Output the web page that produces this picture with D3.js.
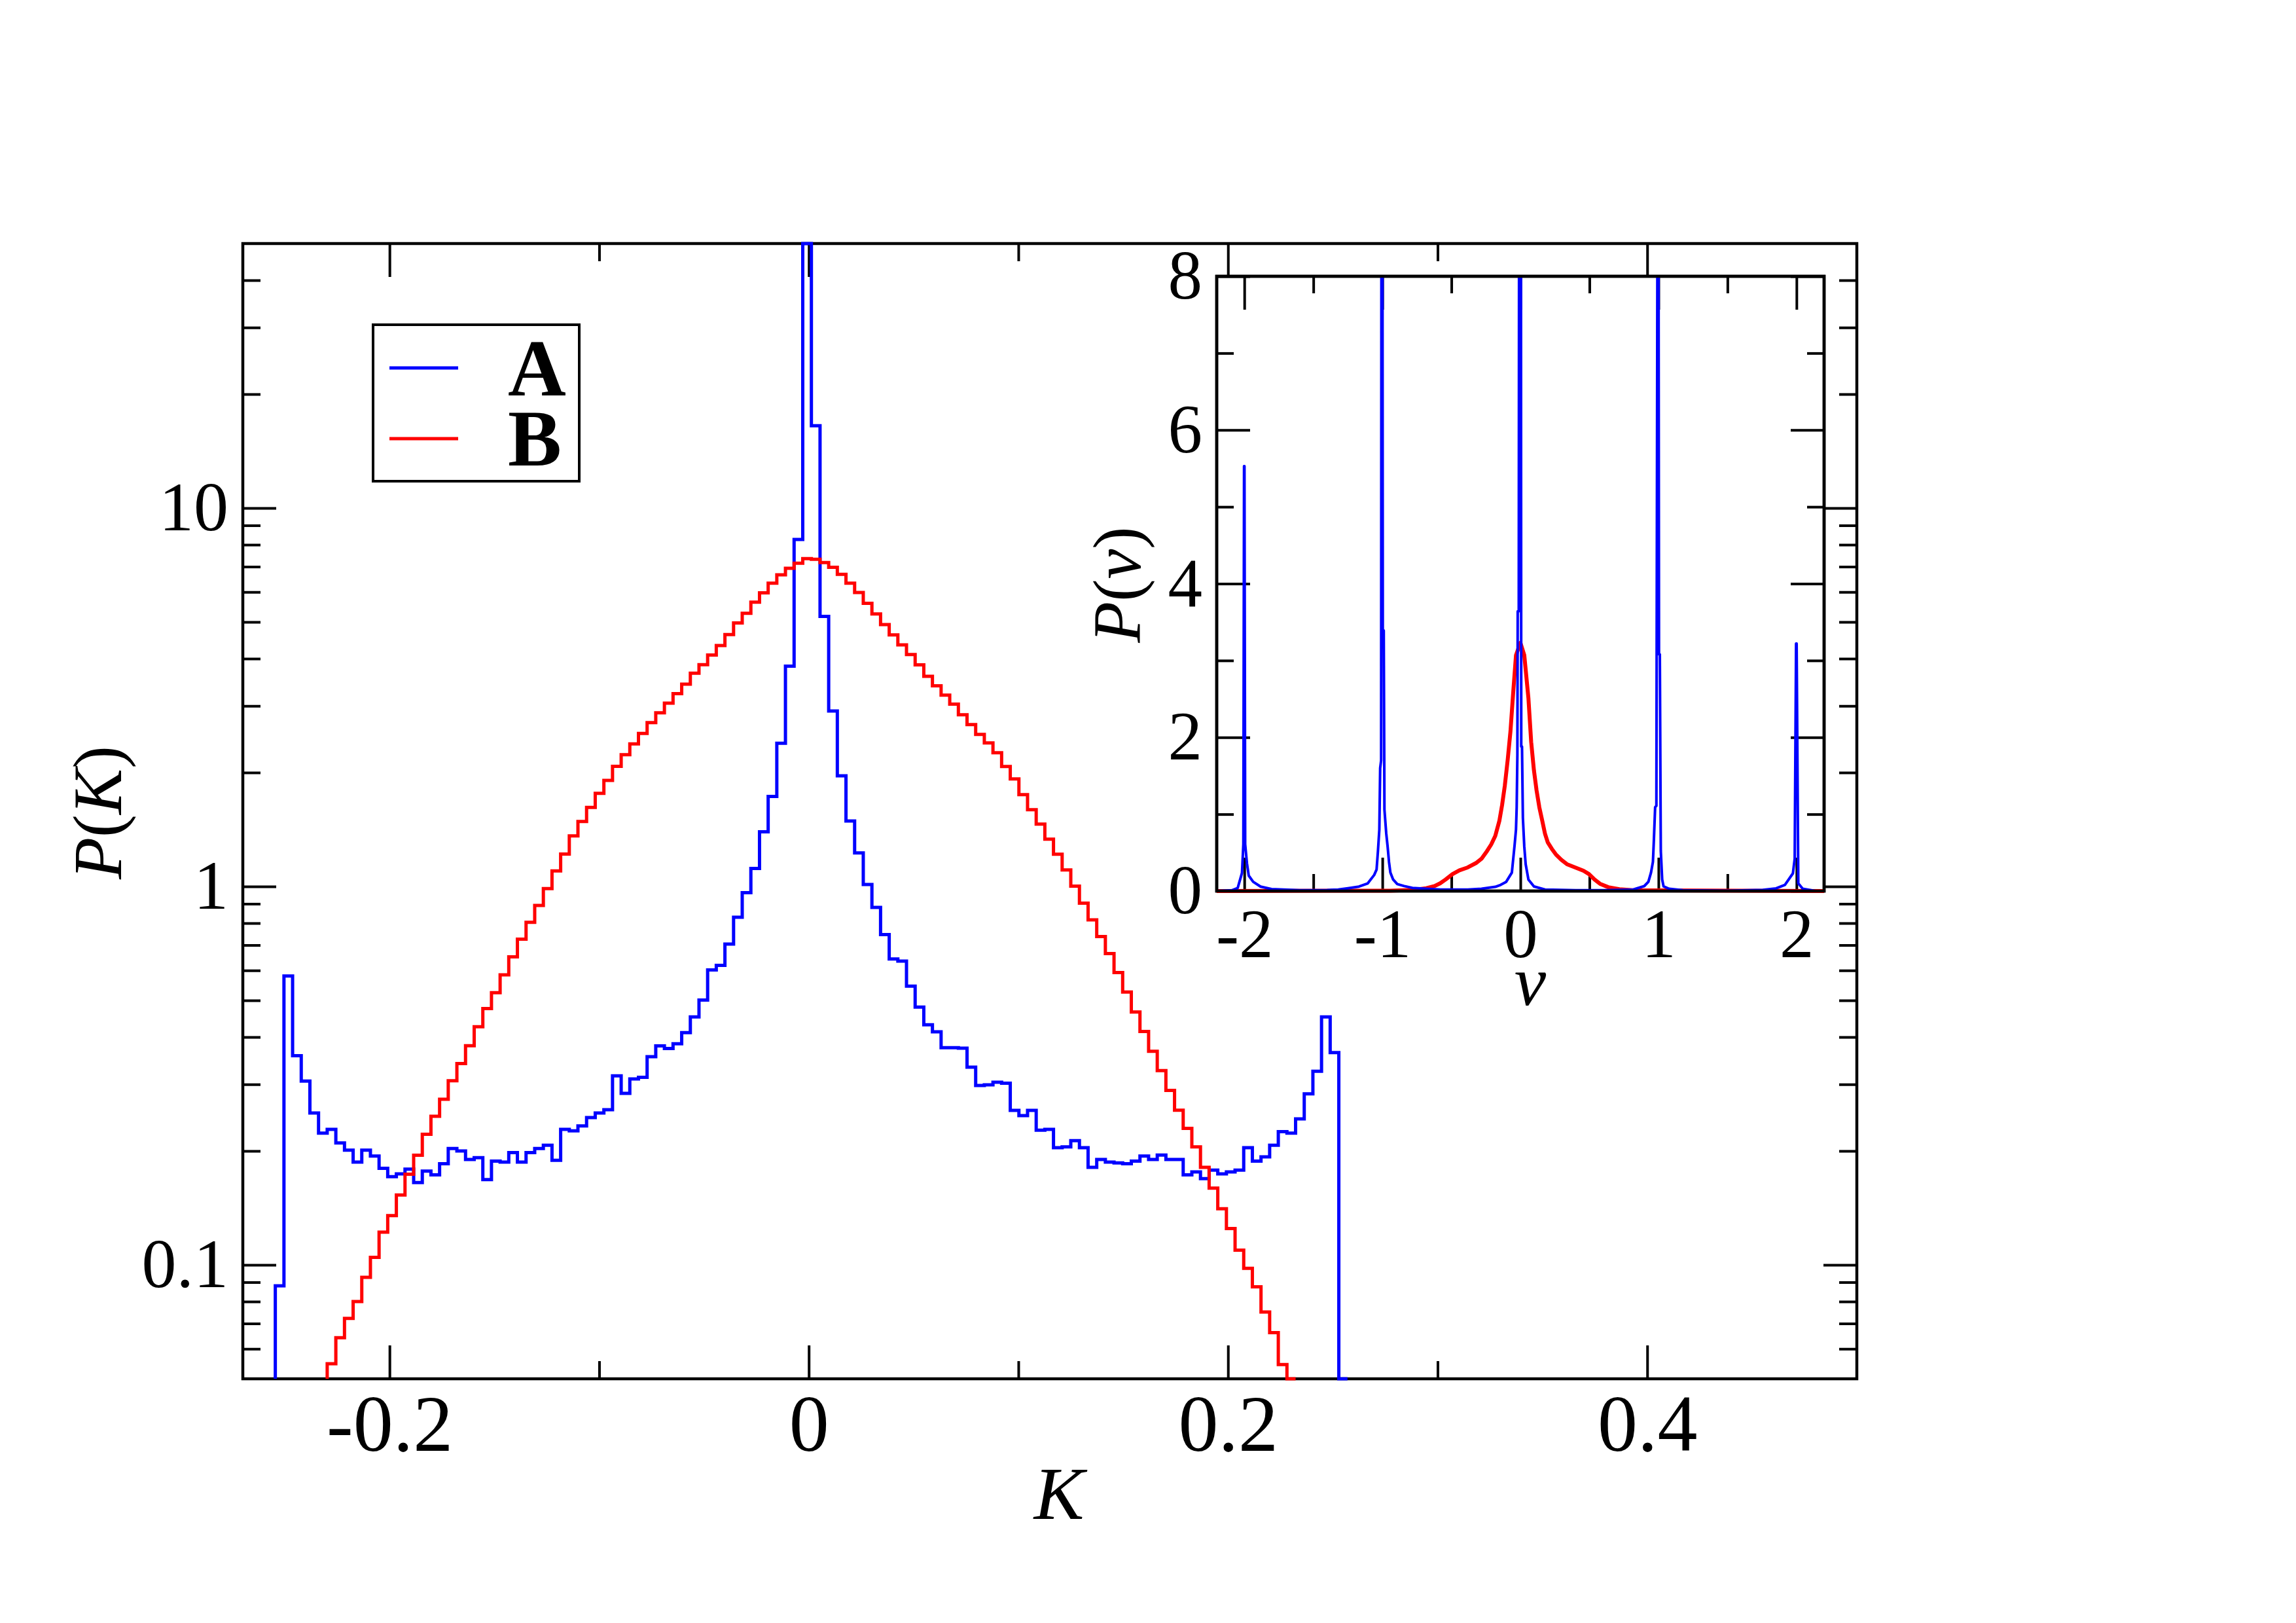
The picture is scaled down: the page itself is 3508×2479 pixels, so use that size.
<!DOCTYPE html>
<html>
<head>
<meta charset="utf-8">
<script src="https://cdn.jsdelivr.net/npm/d3@7"></script>
<style>
  body { margin: 0; background: #fff; }
  svg { display: block; }
  svg text { font-family: "Liberation Serif", "Times New Roman", Times, serif; }
</style>
</head>
<body>
<svg id="chart" width="3508" height="2479"></svg>
<script>
// histogram grid shared by both series
const binStart = -0.2545;
const binWidth = 0.004125;

const blueFirstBin = 0;
const blueP = [
  0.088, 0.58, 0.357, 0.306, 0.252, 0.223, 0.228, 0.21, 0.201, 0.187,
  0.201, 0.194, 0.18, 0.171, 0.174, 0.179, 0.165, 0.177, 0.173, 0.185,
  0.203, 0.2, 0.19, 0.192, 0.168, 0.188, 0.187, 0.198, 0.187, 0.198,
  0.203, 0.207, 0.189, 0.228, 0.226, 0.233, 0.245, 0.252, 0.257, 0.316,
  0.284, 0.31, 0.313, 0.355, 0.379, 0.373, 0.384, 0.411, 0.452, 0.501,
  0.602, 0.619, 0.704, 0.829, 0.963, 1.116, 1.395, 1.729, 2.39, 3.82,
  8.26, 120, 16.5, 5.17, 2.91, 1.96, 1.49, 1.226, 1.012, 0.88,
  0.746, 0.643, 0.635, 0.545, 0.48, 0.431, 0.413, 0.375, 0.375, 0.374,
  0.333, 0.298, 0.299, 0.304, 0.302, 0.256, 0.248, 0.256, 0.227, 0.228,
  0.204, 0.205, 0.213, 0.204, 0.181, 0.19, 0.187, 0.186, 0.185, 0.188,
  0.194, 0.19, 0.195, 0.19, 0.19, 0.173, 0.176, 0.169, 0.178, 0.174,
  0.176, 0.178, 0.204, 0.188, 0.193, 0.207, 0.225, 0.223, 0.243, 0.283,
  0.325, 0.452, 0.364, 0.01,
];

const redFirstBin = 6;
const redP = [
  0.0548, 0.0642, 0.0722, 0.080, 0.0927, 0.1047, 0.122, 0.135, 0.153, 0.1736,
  0.1948, 0.2215, 0.247, 0.274, 0.3066, 0.3405, 0.3794, 0.4258, 0.4755, 0.524,
  0.5838, 0.6517, 0.726, 0.804, 0.891, 0.987, 1.0995, 1.218, 1.36, 1.485,
  1.618, 1.763, 1.907, 2.078, 2.23, 2.38, 2.537, 2.71, 2.876, 3.05,
  3.233, 3.425, 3.66, 3.855, 4.087, 4.334, 4.63, 4.97, 5.27, 5.64,
  5.97, 6.33, 6.66, 6.93, 7.15, 7.35, 7.32, 7.18, 6.97, 6.68,
  6.33, 5.98, 5.6, 5.25, 4.92, 4.62, 4.35, 4.1, 3.85, 3.593,
  3.392, 3.203, 3.032, 2.842, 2.677, 2.522, 2.394, 2.256, 2.075, 1.924,
  1.748, 1.596, 1.462, 1.334, 1.217, 1.106, 1.002, 0.903, 0.816, 0.737,
  0.665, 0.592, 0.526, 0.466, 0.414, 0.367, 0.326, 0.289, 0.2564, 0.2294,
  0.205, 0.181, 0.1595, 0.1407, 0.1248, 0.1094, 0.0979, 0.0875, 0.0751, 0.0662,
  0.0545, 0.04,
];

// inset P(v)
const blueV = [
  -2.2, -2.09, -2.048, -2.017, -2.007, -2.002, -1.999, -1.994, -1.981, -1.968,
  -1.936, -1.882, -1.803, -1.6, -1.4, -1.32, -1.249, -1.17, -1.106, -1.059,
  -1.042, -1.032, -1.022, -1.016, -1.009, -1.007, -0.999, -0.997, -0.99, -0.985,
  -0.972, -0.962, -0.952, -0.942, -0.922, -0.892, -0.842, -0.782, -0.68, -0.58,
  -0.382, -0.282, -0.182, -0.143, -0.103, -0.062, -0.042, -0.032, -0.027, -0.022,
  -0.0195, -0.012, -0.010, 0.004, 0.006, 0.0115, 0.018, 0.028, 0.038, 0.058,
  0.098, 0.178, 0.4, 0.6, 0.817, 0.897, 0.927, 0.946, 0.96, 0.967,
  0.976, 0.985, 0.992, 1.001, 1.004, 1.01, 1.017, 1.027, 1.037, 1.077,
  1.177, 1.5, 1.756, 1.852, 1.916, 1.974, 1.987, 1.997, 2.001, 2.013,
  2.045, 2.14, 2.2,
];
const blueInsetP = [
  0, 0.01, 0.04, 0.235, 0.61, 5.53, 5.53, 0.61, 0.36, 0.2,
  0.12, 0.058, 0.026, 0.01, 0.012, 0.02, 0.037, 0.058, 0.1, 0.21,
  0.28, 0.52, 0.8, 1.6, 1.7, 8.5, 8.5, 3.39, 3.39, 1.06,
  0.75, 0.58, 0.38, 0.24, 0.15, 0.09, 0.065, 0.04, 0.03, 0.02,
  0.02, 0.03, 0.055, 0.08, 0.12, 0.24, 0.6, 0.8, 1.09, 1.77,
  3.64, 3.64, 8.5, 8.5, 1.88, 1.88, 0.95, 0.58, 0.35, 0.15,
  0.06, 0.02, 0.01, 0.01, 0.02, 0.064, 0.12, 0.24, 0.38, 0.67,
  1.09, 1.11, 8.5, 8.5, 3.08, 3.08, 0.52, 0.15, 0.06, 0.03,
  0.01, 0.005, 0.015, 0.035, 0.08, 0.23, 0.42, 3.22, 3.22, 0.1,
  0.03, 0, 0,
];

const redV = [
  -2.2, -0.942, -0.782, -0.682, -0.622, -0.582, -0.542, -0.492, -0.442, -0.382,
  -0.322, -0.282, -0.242, -0.212, -0.182, -0.152, -0.133, -0.113, -0.092, -0.072,
  -0.052, -0.032, 0, 0.028, 0.058, 0.078, 0.098, 0.117, 0.137, 0.158,
  0.178, 0.198, 0.228, 0.257, 0.297, 0.337, 0.397, 0.457, 0.497, 0.537,
  0.577, 0.637, 0.717, 0.817, 2.2,
];
const redInsetP = [
  0, 0.005, 0.014, 0.037, 0.065, 0.1, 0.15, 0.22, 0.27, 0.307,
  0.364, 0.42, 0.52, 0.605, 0.718, 0.917, 1.116, 1.37, 1.71, 2.08,
  2.59, 3.07, 3.23, 3.07, 2.51, 1.94, 1.57, 1.31, 1.09, 0.917,
  0.747, 0.633, 0.548, 0.477, 0.406, 0.35, 0.307, 0.264, 0.22, 0.15,
  0.094, 0.05, 0.023, 0.01, 0,
];

const seriesNames = ['A', 'B'];
const seriesColors = ['#0000ff', '#ff0000'];

const xTicksMajor = [-0.2, 0, 0.2, 0.4];
const xTicksMinor = [-0.1, 0.1, 0.3];
const yTicksMajor = [0.1, 1, 10];
const yTicksMinor = [0.06, 0.07, 0.08, 0.09, 0.2, 0.3, 0.4, 0.5, 0.6, 0.7, 0.8, 0.9,
  2, 3, 4, 5, 6, 7, 8, 9, 20, 30, 40];
const insetXMajor = [-2, -1, 0, 1, 2];
const insetXMinor = [-1.5, -0.5, 0.5, 1.5];
const insetYMajor = [0, 2, 4, 6, 8];
const insetYMinor = [1, 3, 5, 7];

const serif = '"Liberation Serif", "Times New Roman", Times, serif';
const main = { left: 371, top: 372, right: 2837, bottom: 2106 };
const inset = { left: 1859, top: 422, right: 2787, bottom: 1361 };

const svg = d3.select('#chart');
svg.append('rect').attr('width', 3508).attr('height', 2479).attr('fill', '#fff');

const xScale = d3.scaleLinear().domain([-0.27, 0.5]).range([main.left, main.right]);
const yScale = d3.scaleLog().domain([0.05, 50]).range([main.bottom, main.top]).clamp(true);
const xInset = d3.scaleLinear().domain([-2.2, 2.2]).range([inset.left, inset.right]);
const yInset = d3.scaleLinear().domain([0, 8]).range([inset.bottom, inset.top]).clamp(true);

const styleAxis = (g, fontSize) => {
  g.select('.domain').remove();
  g.selectAll('line').attr('stroke', '#000').attr('stroke-width', 4);
  g.attr('font-size', fontSize).attr('font-family', null);
  g.selectAll('text').attr('fill', '#000').style('font-family', serif);
};

// ticks point inward on every side, xmgrace style
const addAxis = (axisFn, scale, translate, values, size, fmt, pad, fontSize) => {
  svg.append('g')
    .attr('transform', translate)
    .call(axisFn(scale).tickValues(values).tickSize(-size).tickPadding(pad).tickFormat(fmt))
    .call(g => styleAxis(g, fontSize || 10));
};

const frame = (box, fill) => svg.append('rect')
  .attr('x', box.left)
  .attr('y', box.top)
  .attr('width', box.right - box.left)
  .attr('height', box.bottom - box.top)
  .attr('fill', fill)
  .attr('stroke', '#000')
  .attr('stroke-width', 4.5);

// ---- main plot ----
frame(main, 'none');
addAxis(d3.axisBottom, xScale, `translate(0,${main.bottom})`, xTicksMajor, 51, d => String(d), 23, 122);
addAxis(d3.axisBottom, xScale, `translate(0,${main.bottom})`, xTicksMinor, 27, () => '', 0);
addAxis(d3.axisTop, xScale, `translate(0,${main.top})`, xTicksMajor, 51, () => '', 0);
addAxis(d3.axisTop, xScale, `translate(0,${main.top})`, xTicksMinor, 27, () => '', 0);
addAxis(d3.axisLeft, yScale, `translate(${main.left},0)`, yTicksMajor, 51, d => String(d), 22, 106);
addAxis(d3.axisLeft, yScale, `translate(${main.left},0)`, yTicksMinor, 27, () => '', 0);
addAxis(d3.axisRight, yScale, `translate(${main.right},0)`, yTicksMajor, 51, () => '', 0);
addAxis(d3.axisRight, yScale, `translate(${main.right},0)`, yTicksMinor, 27, () => '', 0);

const stepLine = d3.line()
  .x(d => xScale(d.k))
  .y(d => yScale(d.p))
  .curve(d3.curveStepAfter);

const histPoints = (first, values) => {
  const pts = [{ k: binStart + first * binWidth, p: 0.05 }];
  values.forEach((p, i) => pts.push({ k: binStart + (first + i) * binWidth, p }));
  pts.push({ k: binStart + (first + values.length) * binWidth, p: values[values.length - 1] });
  return pts;
};

[[blueFirstBin, blueP], [redFirstBin, redP]].forEach(([first, values], i) => {
  svg.append('path')
    .datum(histPoints(first, values))
    .attr('fill', 'none')
    .attr('stroke', seriesColors[i])
    .attr('stroke-width', 5)
    .attr('stroke-linejoin', 'miter')
    .attr('d', stepLine);
});

// legend
const legend = svg.append('g');
legend.append('rect')
  .attr('x', 570).attr('y', 496).attr('width', 315).attr('height', 239)
  .attr('fill', '#fff').attr('stroke', '#000').attr('stroke-width', 4);
seriesNames.forEach((name, i) => {
  legend.append('line')
    .attr('x1', 595).attr('x2', 700)
    .attr('y1', 562 + i * 108).attr('y2', 562 + i * 108)
    .attr('stroke', seriesColors[i]).attr('stroke-width', 5);
  legend.append('text')
    .attr('x', 776).attr('y', 604 + i * 107)
    .attr('font-weight', 'bold').attr('font-size', 123)
    .style('font-family', serif)
    .text(name);
});

// axis titles
svg.append('text')
  .attr('x', 1618).attr('y', 2320)
  .attr('text-anchor', 'middle')
  .attr('font-size', 115).attr('font-style', 'italic')
  .style('font-family', serif)
  .text('K');

const mixedTitle = (sel, parts) => parts.forEach(([t, it]) => {
  sel.append('tspan').attr('font-style', it ? 'italic' : 'normal').text(t);
});

svg.append('text')
  .attr('transform', 'translate(185,1241) rotate(-90)')
  .attr('text-anchor', 'middle')
  .attr('font-size', 105)
  .style('font-family', serif)
  .call(t => mixedTitle(t, [['P', true], ['(', false], ['K', true], [')', false]]));

// ---- inset ----
frame(inset, '#fff');
addAxis(d3.axisBottom, xInset, `translate(0,${inset.bottom})`, insetXMajor, 51, d => String(d), 26, 105);
addAxis(d3.axisBottom, xInset, `translate(0,${inset.bottom})`, insetXMinor, 26, () => '', 0);
addAxis(d3.axisTop, xInset, `translate(0,${inset.top})`, insetXMajor, 51, () => '', 0);
addAxis(d3.axisTop, xInset, `translate(0,${inset.top})`, insetXMinor, 26, () => '', 0);
addAxis(d3.axisLeft, yInset, `translate(${inset.left},0)`, insetYMajor, 51, d => String(d), 22, 105);
addAxis(d3.axisLeft, yInset, `translate(${inset.left},0)`, insetYMinor, 26, () => '', 0);
addAxis(d3.axisRight, yInset, `translate(${inset.right},0)`, insetYMajor, 51, () => '', 0);
addAxis(d3.axisRight, yInset, `translate(${inset.right},0)`, insetYMinor, 26, () => '', 0);

const insetLine = d3.line().x(d => xInset(d[0])).y(d => yInset(d[1]));

svg.append('path')
  .datum(redV.map((v, i) => [v, redInsetP[i]]))
  .attr('fill', 'none')
  .attr('stroke', seriesColors[1])
  .attr('stroke-width', 6)
  .attr('stroke-linejoin', 'round')
  .attr('d', insetLine);

svg.append('path')
  .datum(blueV.map((v, i) => [v, blueInsetP[i]]))
  .attr('fill', 'none')
  .attr('stroke', seriesColors[0])
  .attr('stroke-width', 4)
  .attr('stroke-linejoin', 'round')
  .attr('d', insetLine);

frame(inset, 'none');

svg.append('text')
  .attr('x', 2338).attr('y', 1535)
  .attr('text-anchor', 'middle')
  .attr('font-size', 109).attr('font-style', 'italic')
  .style('font-family', serif)
  .text('v');

svg.append('text')
  .attr('transform', 'translate(1742,893) rotate(-90)')
  .attr('text-anchor', 'middle')
  .attr('font-size', 103)
  .style('font-family', serif)
  .call(t => mixedTitle(t, [['P', true], ['(', false], ['v', true], [')', false]]));
</script>
</body>
</html>
